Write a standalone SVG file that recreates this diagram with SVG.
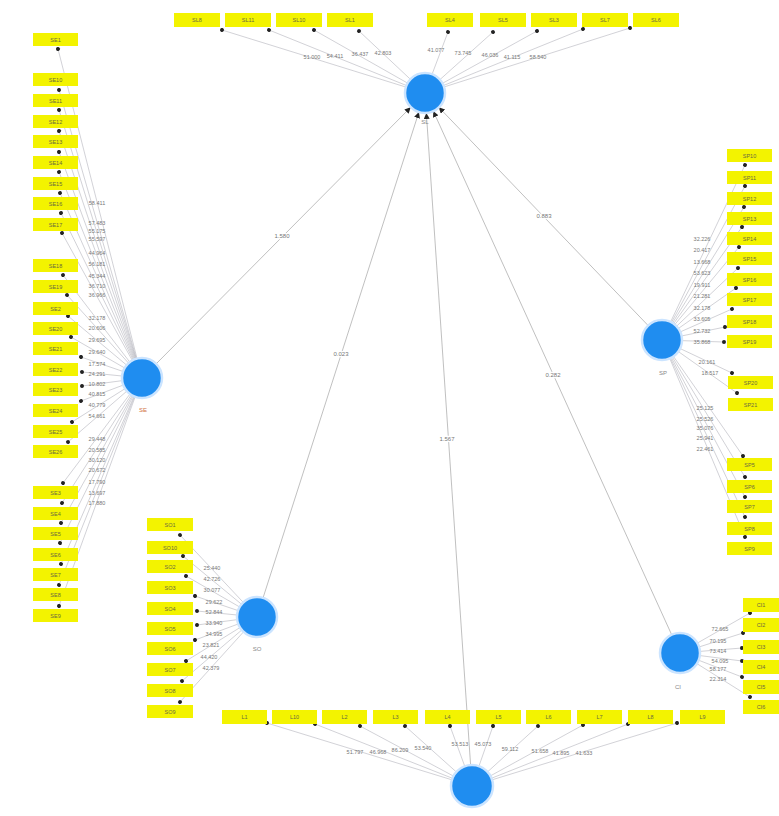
<svg xmlns="http://www.w3.org/2000/svg" width="779" height="816" viewBox="0 0 779 816">
<style>
.box{fill:#f3f300}
.bt{font-family:"Liberation Sans",Arial,sans-serif;font-size:5.5px;fill:#6a6a40;text-anchor:middle}
.lv{fill:#1f8df0;stroke:#cbe4ff;stroke-width:2.5}
.lt{font-family:"Liberation Sans",Arial,sans-serif;font-size:6px;fill:#888;text-anchor:middle}
.ln{stroke:#b4b4bc;stroke-width:0.6;fill:none;marker-end:url(#dt)}
.pa{stroke:#b0b0b0;stroke-width:0.8;fill:none;marker-end:url(#ah)}
.ld{font-family:"Liberation Sans",Arial,sans-serif;font-size:5.5px;fill:#777;text-anchor:middle}
.pl{font-family:"Liberation Sans",Arial,sans-serif;font-size:6px;fill:#777;text-anchor:middle;paint-order:stroke;stroke:#fff;stroke-width:2.5}
</style>
<defs>
<marker id="dt" markerUnits="userSpaceOnUse" markerWidth="6" markerHeight="6" refX="3" refY="3" orient="auto"><circle cx="3" cy="3" r="2" fill="#222"/></marker>
<marker id="ah" markerUnits="userSpaceOnUse" markerWidth="6" markerHeight="6" refX="5" refY="3" orient="auto"><path d="M0,0 L6,3 L0,6 z" fill="#222"/></marker>
</defs>
<rect width="779" height="816" fill="#fff"/>
<g id="connectors">
<!-- SE loadings -->
<line class="ln" x1="142" y1="378" x2="58" y2="49"/>
<line class="ln" x1="142" y1="378" x2="59" y2="90"/>
<line class="ln" x1="142" y1="378" x2="59" y2="110"/>
<line class="ln" x1="142" y1="378" x2="59" y2="131"/>
<line class="ln" x1="142" y1="378" x2="59" y2="152"/>
<line class="ln" x1="142" y1="378" x2="59" y2="172"/>
<line class="ln" x1="142" y1="378" x2="60" y2="193"/>
<line class="ln" x1="142" y1="378" x2="61" y2="213"/>
<line class="ln" x1="142" y1="378" x2="62" y2="233"/>
<line class="ln" x1="142" y1="378" x2="63" y2="275"/>
<line class="ln" x1="142" y1="378" x2="67" y2="295"/>
<line class="ln" x1="142" y1="378" x2="68" y2="316"/>
<line class="ln" x1="142" y1="378" x2="71" y2="337"/>
<line class="ln" x1="142" y1="378" x2="81" y2="357"/>
<line class="ln" x1="142" y1="378" x2="82" y2="372"/>
<line class="ln" x1="142" y1="378" x2="82" y2="386"/>
<line class="ln" x1="142" y1="378" x2="81" y2="401"/>
<line class="ln" x1="142" y1="378" x2="72" y2="422"/>
<line class="ln" x1="142" y1="378" x2="68" y2="442"/>
<line class="ln" x1="142" y1="378" x2="63" y2="483"/>
<line class="ln" x1="142" y1="378" x2="62" y2="503"/>
<line class="ln" x1="142" y1="378" x2="61" y2="523"/>
<line class="ln" x1="142" y1="378" x2="60" y2="543"/>
<line class="ln" x1="142" y1="378" x2="61" y2="564"/>
<line class="ln" x1="142" y1="378" x2="59" y2="585"/>
<line class="ln" x1="142" y1="378" x2="59" y2="606"/>
<!-- SP loadings -->
<line class="ln" x1="662" y1="340" x2="745" y2="165"/>
<line class="ln" x1="662" y1="340" x2="745" y2="186"/>
<line class="ln" x1="662" y1="340" x2="744" y2="207"/>
<line class="ln" x1="662" y1="340" x2="742" y2="227"/>
<line class="ln" x1="662" y1="340" x2="739" y2="247"/>
<line class="ln" x1="662" y1="340" x2="738" y2="268"/>
<line class="ln" x1="662" y1="340" x2="736" y2="288"/>
<line class="ln" x1="662" y1="340" x2="732" y2="309"/>
<line class="ln" x1="662" y1="340" x2="725" y2="327"/>
<line class="ln" x1="662" y1="340" x2="724" y2="342"/>
<line class="ln" x1="662" y1="340" x2="732" y2="373"/>
<line class="ln" x1="662" y1="340" x2="737" y2="393"/>
<line class="ln" x1="662" y1="340" x2="743" y2="456"/>
<line class="ln" x1="662" y1="340" x2="745" y2="477"/>
<line class="ln" x1="662" y1="340" x2="745" y2="497"/>
<line class="ln" x1="662" y1="340" x2="745" y2="517"/>
<line class="ln" x1="662" y1="340" x2="745" y2="537"/>
<!-- SO loadings -->
<line class="ln" x1="257" y1="617" x2="180" y2="535"/>
<line class="ln" x1="257" y1="617" x2="183" y2="556"/>
<line class="ln" x1="257" y1="617" x2="186" y2="576"/>
<line class="ln" x1="257" y1="617" x2="195" y2="596"/>
<line class="ln" x1="257" y1="617" x2="197" y2="611"/>
<line class="ln" x1="257" y1="617" x2="197" y2="625"/>
<line class="ln" x1="257" y1="617" x2="195" y2="640"/>
<line class="ln" x1="257" y1="617" x2="186" y2="661"/>
<line class="ln" x1="257" y1="617" x2="182" y2="681"/>
<line class="ln" x1="257" y1="617" x2="180" y2="702"/>
<!-- CI loadings -->
<line class="ln" x1="680" y1="653" x2="750" y2="613"/>
<line class="ln" x1="680" y1="653" x2="743" y2="633"/>
<line class="ln" x1="680" y1="653" x2="742" y2="648"/>
<line class="ln" x1="680" y1="653" x2="742" y2="661"/>
<line class="ln" x1="680" y1="653" x2="742" y2="677"/>
<line class="ln" x1="680" y1="653" x2="750" y2="697"/>
<!-- L loadings -->
<line class="ln" x1="472" y1="786" x2="267" y2="723"/>
<line class="ln" x1="472" y1="786" x2="315" y2="724"/>
<line class="ln" x1="472" y1="786" x2="360" y2="726"/>
<line class="ln" x1="472" y1="786" x2="405" y2="726"/>
<line class="ln" x1="472" y1="786" x2="450" y2="726"/>
<line class="ln" x1="472" y1="786" x2="493" y2="726"/>
<line class="ln" x1="472" y1="786" x2="538" y2="726"/>
<line class="ln" x1="472" y1="786" x2="583" y2="725"/>
<line class="ln" x1="472" y1="786" x2="628" y2="724"/>
<line class="ln" x1="472" y1="786" x2="677" y2="723"/>
<!-- SL loadings -->
<line class="ln" x1="425" y1="93" x2="222" y2="30"/>
<line class="ln" x1="425" y1="93" x2="269" y2="30"/>
<line class="ln" x1="425" y1="93" x2="314" y2="30"/>
<line class="ln" x1="425" y1="93" x2="359" y2="31"/>
<line class="ln" x1="425" y1="93" x2="448" y2="32"/>
<line class="ln" x1="425" y1="93" x2="493" y2="32"/>
<line class="ln" x1="425" y1="93" x2="537" y2="31"/>
<line class="ln" x1="425" y1="93" x2="583" y2="29"/>
<line class="ln" x1="425" y1="93" x2="630" y2="28"/>
<!-- paths -->
<line class="pa" x1="156" y1="364" x2="410" y2="108"/>
<line class="pa" x1="263" y1="598" x2="418.6" y2="113"/>
<line class="pa" x1="470.6" y1="765" x2="426.4" y2="114"/>
<line class="pa" x1="671.7" y1="634.8" x2="433.7" y2="112"/>
<line class="pa" x1="648.2" y1="325.6" x2="439.5" y2="108"/>
<!-- loading values -->
<g class="ld">
<text x="97" y="205">58.411</text><text x="97" y="225">57.483</text><text x="97" y="233">55.175</text><text x="97" y="241">55.597</text><text x="97" y="255">44.964</text><text x="97" y="266">56.181</text><text x="97" y="278">45.344</text><text x="97" y="288">36.710</text><text x="97" y="297">36.966</text>
<text x="97" y="320">32.178</text><text x="97" y="330">20.606</text><text x="97" y="342">29.695</text><text x="97" y="354">29.640</text><text x="97" y="366">17.574</text><text x="97" y="376">24.291</text><text x="97" y="386">10.802</text><text x="97" y="396">40.815</text><text x="97" y="407">40.779</text><text x="97" y="418">54.661</text>
<text x="97" y="441">29.448</text><text x="97" y="452">20.585</text><text x="97" y="462">30.120</text><text x="97" y="472">20.672</text><text x="97" y="484">17.790</text><text x="97" y="495">13.697</text><text x="97" y="505">17.880</text>
<text x="702" y="241">32.226</text><text x="702" y="252">20.417</text><text x="702" y="264">13.668</text><text x="702" y="275">53.623</text><text x="702" y="287">19.911</text><text x="702" y="298">21.281</text><text x="702" y="310">32.178</text><text x="702" y="321">33.605</text><text x="702" y="333">52.732</text><text x="702" y="344">35.868</text>
<text x="707" y="364">20.161</text><text x="710" y="375">18.517</text>
<text x="705" y="410">25.125</text><text x="705" y="421">25.526</text><text x="705" y="430">35.076</text><text x="705" y="440">25.941</text><text x="705" y="451">22.461</text>
<text x="212" y="570">25.440</text><text x="212" y="581">42.726</text><text x="212" y="592">30.077</text><text x="214" y="604">29.622</text><text x="214" y="614">52.844</text><text x="214" y="625">33.940</text><text x="214" y="636">34.995</text><text x="211" y="647">23.821</text><text x="209" y="659">44.420</text><text x="211" y="670">42.379</text>
<text x="720" y="631">72.665</text><text x="718" y="643">70.195</text><text x="718" y="653">73.414</text><text x="720" y="663">54.095</text><text x="718" y="671">58.177</text><text x="718" y="681">22.314</text>
<text x="355" y="754">51.797</text><text x="378" y="754">46.968</text><text x="400" y="752">86.209</text><text x="423" y="750">53.540</text><text x="460" y="746">53.513</text><text x="483" y="746">45.073</text><text x="510" y="751">59.112</text><text x="540" y="753">51.658</text><text x="561" y="755">41.895</text><text x="584" y="755">41.633</text>
<text x="312" y="59">51.000</text><text x="335" y="58">54.411</text><text x="360" y="56">36.437</text><text x="383" y="55">42.803</text><text x="436" y="52">41.077</text><text x="463" y="55">73.745</text><text x="490" y="57">46.036</text><text x="512" y="59">41.115</text><text x="538" y="59">58.540</text>
</g>
<g class="pl">
<text x="282" y="238">1.580</text>
<text x="341" y="356">0.023</text>
<text x="447" y="441">1.567</text>
<text x="553" y="377">0.282</text>
<text x="544" y="218">0.883</text>
</g>
</g>
<!-- latent variables -->
<g id="SL"><circle class="lv" cx="425" cy="93" r="20"/><text class="lt" x="425" y="124">SL</text></g>
<g id="SE"><circle class="lv" cx="142" cy="378" r="20"/><text class="lt" x="143" y="412" style="fill:#d07040">SE</text></g>
<g id="SP"><circle class="lv" cx="662" cy="340" r="20"/><text class="lt" x="663" y="375">SP</text></g>
<g id="SO"><circle class="lv" cx="257" cy="617" r="20"/><text class="lt" x="257" y="651">SO</text></g>
<g id="CI"><circle class="lv" cx="680" cy="653" r="20"/><text class="lt" x="678" y="689">CI</text></g>
<g id="L"><circle class="lv" cx="472" cy="786" r="21"/></g>
<!-- top row indicators -->
<g id="SL8"><rect class="box" x="174" y="13" width="46" height="14"/><text class="bt" x="197" y="22">SL8</text></g>
<g id="SL11"><rect class="box" x="225" y="13" width="46" height="14"/><text class="bt" x="248" y="22">SL11</text></g>
<g id="SL10"><rect class="box" x="276" y="13" width="46" height="14"/><text class="bt" x="299" y="22">SL10</text></g>
<g id="SL1"><rect class="box" x="327" y="13" width="46" height="14"/><text class="bt" x="350" y="22">SL1</text></g>
<g id="SL4"><rect class="box" x="427" y="13" width="46" height="14"/><text class="bt" x="450" y="22">SL4</text></g>
<g id="SL5"><rect class="box" x="480" y="13" width="46" height="14"/><text class="bt" x="503" y="22">SL5</text></g>
<g id="SL3"><rect class="box" x="531" y="13" width="46" height="14"/><text class="bt" x="554" y="22">SL3</text></g>
<g id="SL7"><rect class="box" x="582" y="13" width="46" height="14"/><text class="bt" x="605" y="22">SL7</text></g>
<g id="SL6"><rect class="box" x="633" y="13" width="46" height="14"/><text class="bt" x="656" y="22">SL6</text></g>
<!-- left column indicators -->
<g id="SE1"><rect class="box" x="33" y="33" width="45" height="13"/><text class="bt" x="55.5" y="41.5">SE1</text></g>
<g id="SE10"><rect class="box" x="33" y="73" width="45" height="13"/><text class="bt" x="55.5" y="81.5">SE10</text></g>
<g id="SE11"><rect class="box" x="33" y="94" width="45" height="13"/><text class="bt" x="55.5" y="102.5">SE11</text></g>
<g id="SE12"><rect class="box" x="33" y="115" width="45" height="13"/><text class="bt" x="55.5" y="123.5">SE12</text></g>
<g id="SE13"><rect class="box" x="33" y="135" width="45" height="13"/><text class="bt" x="55.5" y="143.5">SE13</text></g>
<g id="SE14"><rect class="box" x="33" y="156" width="45" height="13"/><text class="bt" x="55.5" y="164.5">SE14</text></g>
<g id="SE15"><rect class="box" x="33" y="177" width="45" height="13"/><text class="bt" x="55.5" y="185.5">SE15</text></g>
<g id="SE16"><rect class="box" x="33" y="197" width="45" height="13"/><text class="bt" x="55.5" y="205.5">SE16</text></g>
<g id="SE17"><rect class="box" x="33" y="218" width="45" height="13"/><text class="bt" x="55.5" y="226.5">SE17</text></g>
<g id="SE18"><rect class="box" x="33" y="259" width="45" height="13"/><text class="bt" x="55.5" y="267.5">SE18</text></g>
<g id="SE19"><rect class="box" x="33" y="280" width="45" height="13"/><text class="bt" x="55.5" y="288.5">SE19</text></g>
<g id="SE2"><rect class="box" x="33" y="302" width="45" height="13"/><text class="bt" x="55.5" y="310.5">SE2</text></g>
<g id="SE20"><rect class="box" x="33" y="322" width="45" height="13"/><text class="bt" x="55.5" y="330.5">SE20</text></g>
<g id="SE21"><rect class="box" x="33" y="342" width="45" height="13"/><text class="bt" x="55.5" y="350.5">SE21</text></g>
<g id="SE22"><rect class="box" x="33" y="363" width="45" height="13"/><text class="bt" x="55.5" y="371.5">SE22</text></g>
<g id="SE23"><rect class="box" x="33" y="383" width="45" height="13"/><text class="bt" x="55.5" y="391.5">SE23</text></g>
<g id="SE24"><rect class="box" x="33" y="404" width="45" height="13"/><text class="bt" x="55.5" y="412.5">SE24</text></g>
<g id="SE25"><rect class="box" x="33" y="425" width="45" height="13"/><text class="bt" x="55.5" y="433.5">SE25</text></g>
<g id="SE26"><rect class="box" x="33" y="445" width="45" height="13"/><text class="bt" x="55.5" y="453.5">SE26</text></g>
<g id="SE3"><rect class="box" x="33" y="486" width="45" height="13"/><text class="bt" x="55.5" y="494.5">SE3</text></g>
<g id="SE4"><rect class="box" x="33" y="507" width="45" height="13"/><text class="bt" x="55.5" y="515.5">SE4</text></g>
<g id="SE5"><rect class="box" x="33" y="527" width="45" height="13"/><text class="bt" x="55.5" y="535.5">SE5</text></g>
<g id="SE6"><rect class="box" x="33" y="548" width="45" height="13"/><text class="bt" x="55.5" y="556.5">SE6</text></g>
<g id="SE7"><rect class="box" x="33" y="568" width="45" height="13"/><text class="bt" x="55.5" y="576.5">SE7</text></g>
<g id="SE8"><rect class="box" x="33" y="588" width="45" height="13"/><text class="bt" x="55.5" y="596.5">SE8</text></g>
<g id="SE9"><rect class="box" x="33" y="609" width="45" height="13"/><text class="bt" x="55.5" y="617.5">SE9</text></g>
<!-- right column indicators -->
<g id="SP10"><rect class="box" x="727" y="149" width="45" height="13"/><text class="bt" x="749.5" y="157.5">SP10</text></g>
<g id="SP11"><rect class="box" x="727" y="171" width="45" height="13"/><text class="bt" x="749.5" y="179.5">SP11</text></g>
<g id="SP12"><rect class="box" x="727" y="192" width="45" height="13"/><text class="bt" x="749.5" y="200.5">SP12</text></g>
<g id="SP13"><rect class="box" x="727" y="212" width="45" height="13"/><text class="bt" x="749.5" y="220.5">SP13</text></g>
<g id="SP14"><rect class="box" x="727" y="232" width="45" height="13"/><text class="bt" x="749.5" y="240.5">SP14</text></g>
<g id="SP15"><rect class="box" x="727" y="252" width="45" height="13"/><text class="bt" x="749.5" y="260.5">SP15</text></g>
<g id="SP16"><rect class="box" x="727" y="273" width="45" height="13"/><text class="bt" x="749.5" y="281.5">SP16</text></g>
<g id="SP17"><rect class="box" x="727" y="293" width="45" height="13"/><text class="bt" x="749.5" y="301.5">SP17</text></g>
<g id="SP18"><rect class="box" x="727" y="315" width="45" height="13"/><text class="bt" x="749.5" y="323.5">SP18</text></g>
<g id="SP19"><rect class="box" x="727" y="335" width="45" height="13"/><text class="bt" x="749.5" y="343.5">SP19</text></g>
<g id="SP20"><rect class="box" x="728" y="376" width="45" height="13"/><text class="bt" x="750.5" y="384.5">SP20</text></g>
<g id="SP21"><rect class="box" x="728" y="398" width="45" height="13"/><text class="bt" x="750.5" y="406.5">SP21</text></g>
<g id="SP5"><rect class="box" x="727" y="458" width="45" height="13"/><text class="bt" x="749.5" y="466.5">SP5</text></g>
<g id="SP6"><rect class="box" x="727" y="480" width="45" height="13"/><text class="bt" x="749.5" y="488.5">SP6</text></g>
<g id="SP7"><rect class="box" x="727" y="500" width="45" height="13"/><text class="bt" x="749.5" y="508.5">SP7</text></g>
<g id="SP8"><rect class="box" x="727" y="522" width="45" height="13"/><text class="bt" x="749.5" y="530.5">SP8</text></g>
<g id="SP9"><rect class="box" x="727" y="542" width="45" height="13"/><text class="bt" x="749.5" y="550.5">SP9</text></g>
<!-- SO indicators -->
<g id="SO1"><rect class="box" x="147" y="518" width="46" height="13"/><text class="bt" x="170" y="526.5">SO1</text></g>
<g id="SO10"><rect class="box" x="147" y="541" width="46" height="13"/><text class="bt" x="170" y="549.5">SO10</text></g>
<g id="SO2"><rect class="box" x="147" y="560" width="46" height="13"/><text class="bt" x="170" y="568.5">SO2</text></g>
<g id="SO3"><rect class="box" x="147" y="581" width="46" height="13"/><text class="bt" x="170" y="589.5">SO3</text></g>
<g id="SO4"><rect class="box" x="147" y="602" width="46" height="13"/><text class="bt" x="170" y="610.5">SO4</text></g>
<g id="SO5"><rect class="box" x="147" y="622" width="46" height="13"/><text class="bt" x="170" y="630.5">SO5</text></g>
<g id="SO6"><rect class="box" x="147" y="642" width="46" height="13"/><text class="bt" x="170" y="650.5">SO6</text></g>
<g id="SO7"><rect class="box" x="147" y="663" width="46" height="13"/><text class="bt" x="170" y="671.5">SO7</text></g>
<g id="SO8"><rect class="box" x="147" y="684" width="46" height="13"/><text class="bt" x="170" y="692.5">SO8</text></g>
<g id="SO9"><rect class="box" x="147" y="705" width="46" height="13"/><text class="bt" x="170" y="713.5">SO9</text></g>
<!-- CI indicators -->
<g id="CI1"><rect class="box" x="743" y="598" width="40" height="14"/><text class="bt" x="761" y="607">CI1</text></g>
<g id="CI2"><rect class="box" x="743" y="618" width="40" height="14"/><text class="bt" x="761" y="627">CI2</text></g>
<g id="CI3"><rect class="box" x="743" y="640" width="40" height="14"/><text class="bt" x="761" y="649">CI3</text></g>
<g id="CI4"><rect class="box" x="743" y="660" width="40" height="14"/><text class="bt" x="761" y="669">CI4</text></g>
<g id="CI5"><rect class="box" x="743" y="680" width="40" height="14"/><text class="bt" x="761" y="689">CI5</text></g>
<g id="CI6"><rect class="box" x="743" y="700" width="40" height="14"/><text class="bt" x="761" y="709">CI6</text></g>
<!-- bottom row indicators -->
<g id="L1"><rect class="box" x="222" y="710" width="45" height="14"/><text class="bt" x="244.5" y="719">L1</text></g>
<g id="L10"><rect class="box" x="272" y="710" width="45" height="14"/><text class="bt" x="294.5" y="719">L10</text></g>
<g id="L2"><rect class="box" x="322" y="710" width="45" height="14"/><text class="bt" x="344.5" y="719">L2</text></g>
<g id="L3"><rect class="box" x="373" y="710" width="45" height="14"/><text class="bt" x="395.5" y="719">L3</text></g>
<g id="L4"><rect class="box" x="425" y="710" width="45" height="14"/><text class="bt" x="447.5" y="719">L4</text></g>
<g id="L5"><rect class="box" x="476" y="710" width="45" height="14"/><text class="bt" x="498.5" y="719">L5</text></g>
<g id="L6"><rect class="box" x="526" y="710" width="45" height="14"/><text class="bt" x="548.5" y="719">L6</text></g>
<g id="L7"><rect class="box" x="577" y="710" width="45" height="14"/><text class="bt" x="599.5" y="719">L7</text></g>
<g id="L8"><rect class="box" x="628" y="710" width="45" height="14"/><text class="bt" x="650.5" y="719">L8</text></g>
<g id="L9"><rect class="box" x="680" y="710" width="45" height="14"/><text class="bt" x="702.5" y="719">L9</text></g>
</svg>
